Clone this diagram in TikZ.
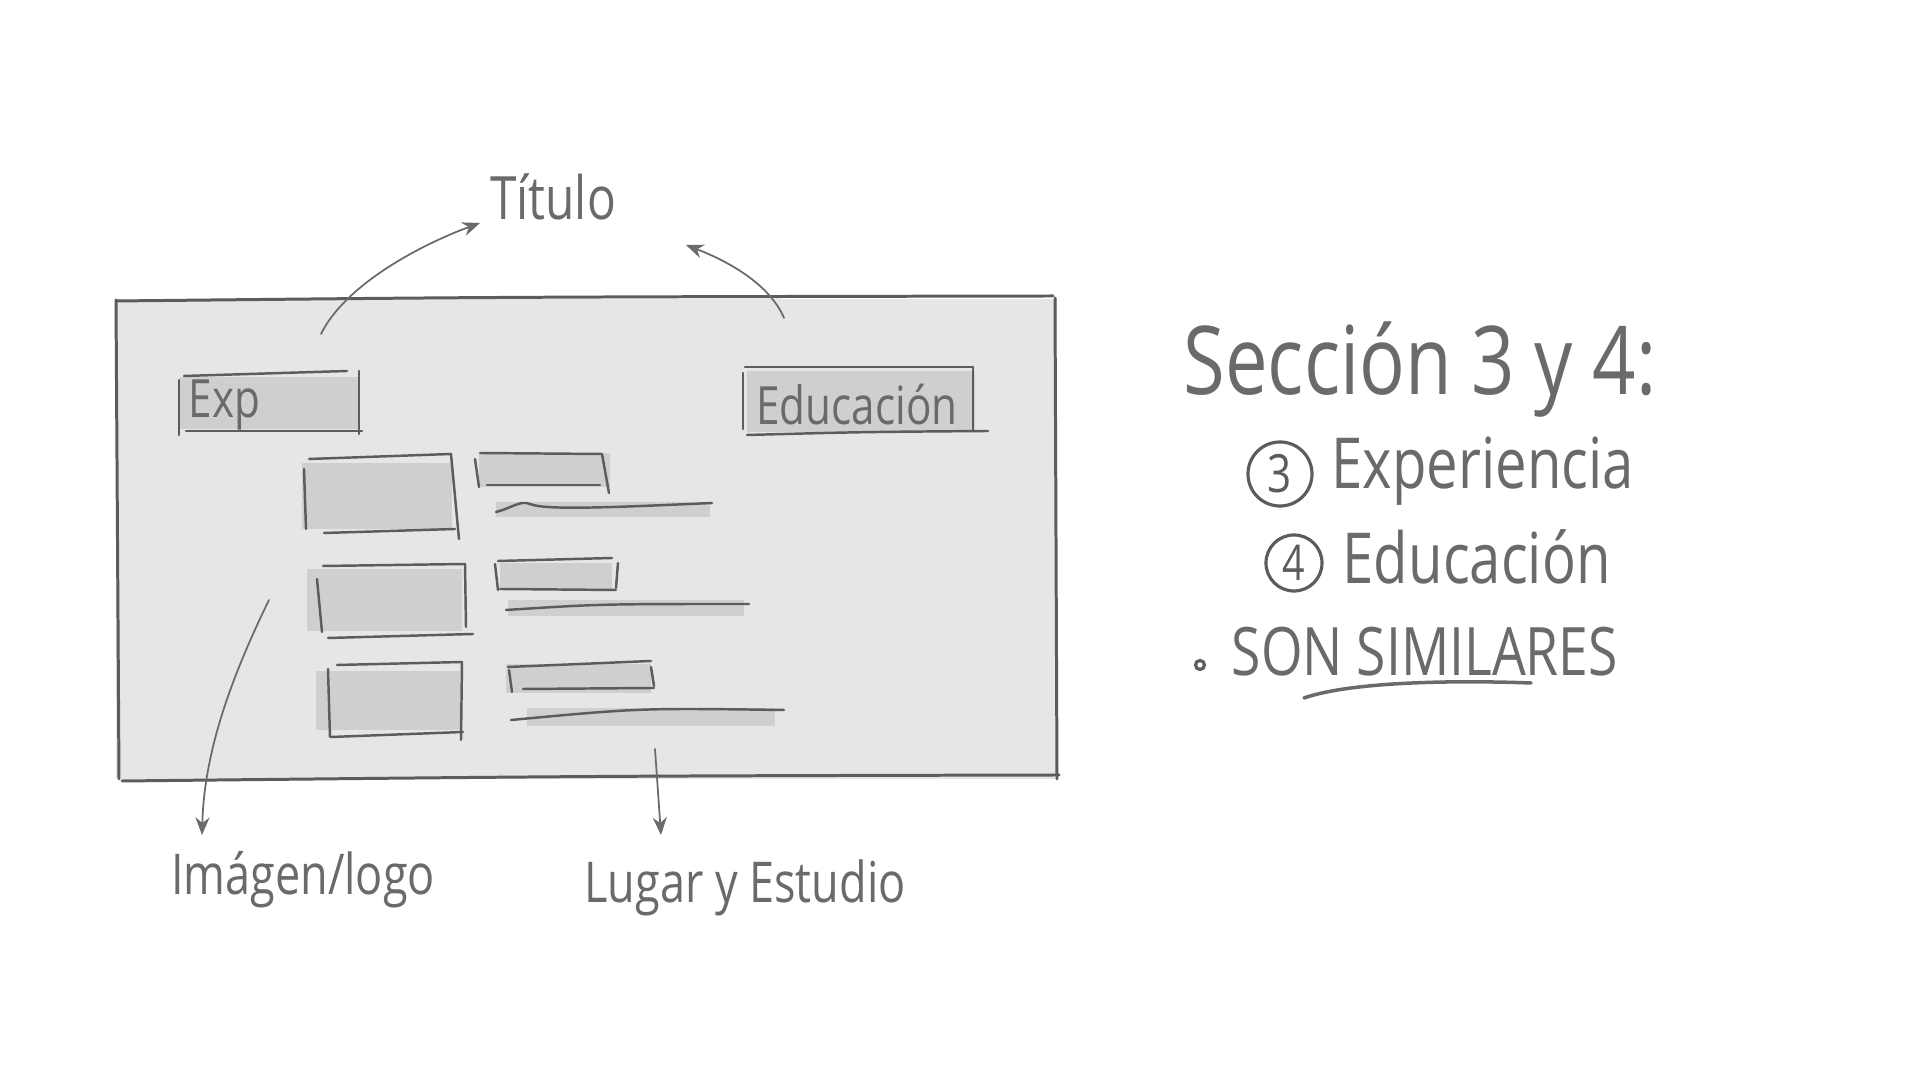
\documentclass[tikz,border=0pt]{standalone}
\usepackage{fontspec}
\newfontfamily\hand[FakeStretch=0.8]{Open Sans}
\usetikzlibrary{arrows.meta}
\definecolor{ink}{HTML}{5C5C5C}
\definecolor{pencil}{HTML}{6A6A6A}
\definecolor{sheet}{HTML}{E6E6E6}
\definecolor{block}{HTML}{CFCFCF}
\tikzset{
  frameline/.style={draw=ink, line width=0.85pt, line cap=round},
  boxline/.style={draw=ink, line width=0.7pt, line cap=round},
  lead/.style={draw=pencil, line width=0.5pt, line cap=round},
  tip/.style={-{Stealth[length=5pt,width=4pt]}},
  handtext/.style={text=pencil, inner sep=0pt, font=\hand\fontsize{#1}{#1}\selectfont},
  numring/.style={draw=ink, line width=0.9pt, circle, inner sep=0pt, text=ink},
}
\begin{document}
\begin{tikzpicture}[x=0.01cm, y=-0.01cm]
\useasboundingbox (0,0) rectangle (1920,1080);
\fill[white] (0,0) rectangle (1920,1080);

% page mock-up
\fill[sheet] (116,299) rectangle (1057,779);
\draw[frameline] (116,301) .. controls (500,297) .. (1053,296);
\draw[frameline] (116,300) -- (119,779);
\draw[frameline] (1055,298) -- (1057,779);
\draw[frameline] (122,781) .. controls (600,776) .. (1059,775);

% section headers
\fill[block] (180,377) rectangle (359,429);
\draw[boxline] (184,376) -- (347,371);
\draw[boxline] (179,380) -- (179,435);
\draw[boxline] (359,371) -- (359,434);
\draw[boxline] (186,431) -- (362,431);
\node[handtext=15, anchor=west] (exp) at (188,405) {Exp};

\fill[block] (747,371) rectangle (975,432);
\draw[boxline] (743,373) -- (743,429);
\draw[boxline] (745,367) -- (973,367);
\draw[boxline] (973,367) -- (973,431);
\draw[boxline] (747,435) .. controls (860,432) .. (988,431);
\node[handtext=15] (educ) at (857,405) {Educación};

% entry 1
\fill[block] (302,463) rectangle (452,529);
\draw[boxline] (309,459) -- (451,454);
\draw[boxline] (304,469) -- (306,529);
\draw[boxline] (451,454) -- (459,539);
\draw[boxline] (324,533) -- (455,529);
\fill[block] (479,453) rectangle (610,487);
\draw[boxline] (480,453) -- (602,454);
\draw[boxline] (475,459) -- (479,487);
\draw[boxline] (602,454) -- (609,493);
\draw[boxline] (487,485) -- (600,485);
\fill[block] (496,502) rectangle (710,517);
\draw[boxline] (496,512) .. controls (512,508) and (520,500) .. (530,504)
  .. controls (545,510) and (600,508) .. (712,503);

% entry 2
\fill[block] (307,569) rectangle (462,631);
\draw[boxline] (323,566) -- (465,564);
\draw[boxline] (465,564) -- (466,627);
\draw[boxline] (317,579) -- (322,632);
\draw[boxline] (328,638) -- (473,634);
\fill[block] (500,563) rectangle (612,589);
\draw[boxline] (498,561) -- (612,558);
\draw[boxline] (495,564) -- (498,590);
\draw[boxline] (618,563) -- (616,588);
\draw[boxline] (500,589) -- (616,590);
\fill[block] (508,600) rectangle (744,616);
\draw[boxline] (506,610) .. controls (600,604) .. (749,604);

% entry 3
\fill[block] (316,671) rectangle (460,730);
\draw[boxline] (337,665) -- (462,662);
\draw[boxline] (328,669) -- (330,737);
\draw[boxline] (462,662) -- (461,740);
\draw[boxline] (331,737) -- (463,732);
\fill[block] (506,664) rectangle (651,693);
\draw[boxline] (508,667) -- (651,661);
\draw[boxline] (509,670) -- (512,692);
\draw[boxline] (651,667) -- (654,686);
\draw[boxline] (523,689) -- (654,688);
\fill[block] (527,708) rectangle (775,726);
\draw[boxline] (511,720) .. controls (640,708) .. (784,710);

% annotations
\node[handtext=17] (titulo) at (553,197) {Título};
\coordinate (tA) at (321,334);
\coordinate (tAend) at (480,223);
\coordinate (tB) at (784,318);
\coordinate (tBend) at (686,245);
\draw[lead, tip] (tA) .. controls (345,285) and (420,245) .. (tAend);
\draw[lead, tip] (tB) .. controls (770,285) and (730,262) .. (tBend);

\node[handtext=16] (imagen) at (303,880) {Imágen/logo};
\coordinate (iA) at (269,600);
\coordinate (iAend) at (202,835);
\draw[lead, tip] (iA) .. controls (225,690) and (204,760) .. (iAend);

\node[handtext=16] (lugar) at (745,888) {Lugar y Estudio};
\coordinate (lA) at (655,749);
\coordinate (lAend) at (661,835);
\draw[lead, tip] (lA) -- (lAend);

% notes on the right
\node[handtext=27] (seccion) at (1420,370) {Sección 3 y 4:};
\node[numring, minimum size=0.64cm, font=\hand\fontsize{15}{15}\selectfont] (c3) at (1280,474) {3};
\node[handtext=20, anchor=west] (exper) at (1331,471) {Experiencia};
\node[numring, minimum size=0.56cm, font=\hand\fontsize{14}{14}\selectfont] (c4) at (1294,563) {4};
\node[handtext=20, anchor=west] (educ2) at (1342,557) {Educación};
\node[draw=ink, line width=0.9pt, circle, minimum size=0.09cm, inner sep=0pt] (dot) at (1200,665) {};
\node[handtext=19, anchor=west] (similares) at (1231,652) {SON SIMILARES};
\coordinate (uA) at (1304,698);
\coordinate (uB) at (1531,683);
\draw[draw=pencil, line width=1pt, line cap=round] (uA) .. controls (1350,682) and (1450,680) .. (uB);
\end{tikzpicture}
\end{document}
